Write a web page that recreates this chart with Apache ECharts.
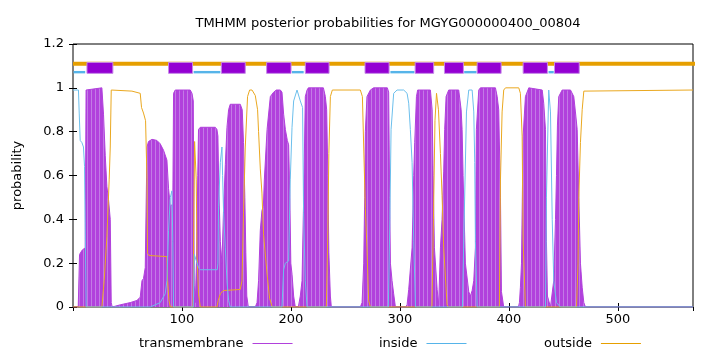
<!DOCTYPE html>
<html>
<head>
<meta charset="utf-8">
<script src="https://cdn.jsdelivr.net/npm/echarts@6/dist/echarts.min.js"></script>
<style>
    html, body { margin: 0; padding: 0; background: #fff; }
    #chart { width: 720px; height: 352px; }
</style>
</head>
<body>
<div id="chart"></div>
<script>
// residue range of the protein
const seqLength = 569;
const yTicks = [0, 0.2, 0.4, 0.6, 0.8, 1, 1.2];

// posterior probability profiles, [residue, probability]
const tmProfile = [
    [0, 0], [4.8, 0], [6.0, 0.24], [8.5, 0.26], [11.2, 0.27], [12.0, 0.99], [26.5, 1.0], [28.0, 0.88],
    [29.6, 0.69], [31.1, 0.55], [32.6, 0.49], [34.2, 0.40], [35.1, 0.02], [36, 0], [43.4, 0.01], [52.5, 0.02],
    [58.7, 0.03], [61.7, 0.045], [63.3, 0.12], [64.7, 0.13], [66.3, 0.18], [67.9, 0.73], [69.3, 0.755],
    [72.5, 0.765], [77.0, 0.76], [80.0, 0.745], [83.1, 0.715], [86.2, 0.67], [87.7, 0.54], [89.3, 0.46],
    [91.6, 0.47], [92.3, 0.975], [93.8, 0.99], [107.6, 0.99], [109.2, 0.975], [110.4, 0.94], [111.3, 0.1],
    [112.2, 0.02], [113.3, 0.2], [114.5, 0.6], [115.2, 0.81], [116.8, 0.82], [130.6, 0.82], [132.1, 0.81],
    [133.0, 0.78], [133.8, 0.55], [135.2, 0.3], [136.7, 0.2], [138.2, 0.45], [139.8, 0.65], [141.3, 0.82],
    [142.8, 0.9], [144.3, 0.925], [153.5, 0.925], [155.3, 0.9], [156.5, 0.75], [157.7, 0.5], [158.6, 0.25],
    [159.5, 0.05], [160.9, 0], [167.3, 0], [168.9, 0.02], [170.3, 0.12], [171.9, 0.35], [173.4, 0.44],
    [174.7, 0.46], [175.6, 0.58], [178.1, 0.81], [181.1, 0.96], [184.1, 0.98], [186.6, 0.99], [190.3, 0.99],
    [191.8, 0.98], [193.3, 0.88], [194.9, 0.81], [196.7, 0.76], [197.9, 0.74], [199.0, 0.5], [199.9, 0.2],
    [201.0, 0.15], [202.5, 0.05], [204.0, 0], [206.8, 0], [208.6, 0.05], [210.2, 0.12], [211.7, 0.5],
    [213.2, 0.96], [214.8, 0.99], [216.0, 1.0], [229.8, 1.0], [231.6, 0.96], [232.8, 0.9], [233.9, 0.6],
    [234.8, 0.25], [236.2, 0.05], [237.1, 0], [263.7, 0], [265.3, 0.02], [266.8, 0.2], [267.7, 0.5],
    [268.3, 0.8], [269.8, 0.96], [272.9, 0.99], [275.9, 1.0], [288.5, 1.0], [289.7, 0.98], [290.6, 0.5],
    [291.3, 0.2], [292.8, 0.12], [294.3, 0.06], [295.9, 0], [305.1, 0], [306.6, 0.01], [308.1, 0.08],
    [311.2, 0.27], [312.7, 0.6], [313.6, 0.75], [315.2, 0.96], [316.3, 0.99], [328.0, 0.99], [329.6, 0.9],
    [330.5, 0.6], [331.7, 0.27], [334.2, 0.08], [335.6, 0.01], [337.2, 0.27], [338.7, 0.4], [340.2, 0.62],
    [341.1, 0.81], [342.4, 0.96], [344.8, 0.99], [354.0, 0.99], [356.2, 0.9], [357.1, 0.81], [358.0, 0.6],
    [360.1, 0.2], [363.2, 0.07], [364.7, 0.05], [366.3, 0.075], [367.8, 0.12], [369.3, 0.27], [370.2, 0.81],
    [372.4, 0.99], [373.9, 1.0], [387.7, 1.0], [389.3, 0.96], [390.7, 0.9], [392.3, 0.5], [393.2, 0.07],
    [395.3, 0], [408.8, 0], [409.7, 0.02], [410.6, 0.09], [411.6, 0.2], [413.1, 0.78], [415.2, 0.96],
    [418.3, 1.0], [430.6, 0.99], [432.0, 0.93], [433.6, 0.81], [434.5, 0.3], [435.4, 0.05], [438.2, 0],
    [439.8, 0], [441.2, 0.12], [442.8, 0.4], [443.7, 0.6], [444.6, 0.83], [445.8, 0.96], [448.9, 0.99],
    [456.6, 0.99], [459.6, 0.96], [461.1, 0.89], [462.7, 0.81], [464.2, 0.5], [465.7, 0.2], [467.3, 0.09],
    [468.8, 0.02], [470.3, 0], [569, 0]
];

const insideProfile = [
    [0, 0.99], [5.0, 0.99], [5.7, 0.885], [6.6, 0.76], [8.2, 0.75], [9.6, 0.73], [10.6, 0.64], [11.2, 0.36],
    [12.1, 0], [70.9, 0], [80.0, 0.02], [84.6, 0.06], [86.2, 0.12], [87.7, 0.35], [89.3, 0.5], [90.8, 0.53],
    [91.6, 0.3], [92.3, 0], [110.4, 0], [111.3, 0.24], [112.2, 0.24], [115.2, 0.18], [116.8, 0.17],
    [132.4, 0.17], [133.0, 0.2], [133.6, 0.46], [135.2, 0.66], [136.7, 0.73], [137.3, 0.6], [138.2, 0.43],
    [139.8, 0.27], [141.3, 0.12], [142.8, 0.03], [144.3, 0], [191.8, 0], [193.3, 0.17], [194.9, 0.2],
    [197.9, 0.21], [199.4, 0.58], [201.0, 0.82], [202.5, 0.94], [205.6, 0.99], [208.6, 0.94], [210.7, 0.91],
    [211.6, 0.43], [213.2, 0.12], [214.8, 0], [289.4, 0], [290.8, 0.4], [291.9, 0.81], [294.3, 0.975],
    [297.4, 0.99], [303.5, 0.99], [306.6, 0.975], [308.1, 0.93], [309.6, 0.81], [311.2, 0.66], [312.7, 0.3],
    [314.3, 0], [357.4, 0], [358.6, 0.3], [361.1, 0.89], [363.2, 0.99], [366.3, 0.99], [367.8, 0.89],
    [368.7, 0.66], [369.3, 0.3], [370.9, 0], [433.6, 0], [434.5, 0.5], [436.6, 0.99], [438.2, 0.89],
    [439.8, 0.4], [441.2, 0.12], [443.7, 0.02], [447.4, 0], [569, 0]
];

const outsideProfile = [
    [0, 0], [26.5, 0], [28.6, 0.12], [31.1, 0.32], [33.2, 0.58], [34.2, 0.73], [35.1, 0.99], [54.1, 0.985],
    [61.7, 0.975], [62.9, 0.91], [64.7, 0.885], [66.6, 0.85], [67.9, 0.58], [68.4, 0.245], [69.7, 0.235],
    [86.2, 0.23], [86.8, 0.12], [88.1, 0.03], [89.3, 0], [110.1, 0], [111.6, 0.755], [113.1, 0.58],
    [113.8, 0.24], [115.2, 0.06], [116.8, 0], [132.1, 0], [133.3, 0.03], [135.2, 0.06], [137.9, 0.075],
    [153.5, 0.08], [155.1, 0.12], [156.5, 0.43], [158.1, 0.73], [160.2, 0.96], [162.1, 0.99], [164.3, 0.99],
    [167.3, 0.965], [169.4, 0.9], [170.3, 0.8], [171.9, 0.63], [173.4, 0.52], [174.9, 0.33], [178.1, 0.15],
    [180.4, 0.04], [182.9, 0], [232.5, 0], [233.9, 0.35], [234.8, 0.7], [236.2, 0.96], [238.0, 0.99],
    [263.7, 0.99], [265.6, 0.96], [266.8, 0.73], [268.3, 0.45], [269.8, 0.27], [271.3, 0.03], [272.9, 0],
    [329.4, 0], [330.8, 0.4], [332.2, 0.85], [333.6, 0.975], [335.4, 0.9], [337.2, 0.7], [338.7, 0.51],
    [340.2, 0.27], [343.3, 0.01], [344.5, 0], [391.3, 0], [392.3, 0.58], [393.8, 0.89], [395.3, 0.99],
    [396.9, 1.0], [409.1, 1.0], [410.6, 0.975], [412.2, 0.78], [413.1, 0.3], [415.2, 0], [462.1, 0],
    [463.5, 0.2], [464.2, 0.5], [465.7, 0.75], [467.3, 0.9], [468.8, 0.985], [569, 0.99]
];

// predicted topology (Viterbi path), [start, end]
const helices = [
    [12.8, 36.6], [87.7, 109.7], [136.1, 158.1], [177.7, 200.1], [213.2, 235.0], [268.0, 290.1],
    [314.0, 331.0], [340.9, 358.3], [370.9, 392.9], [413.1, 435.4], [441.9, 464.6]
];
const insideSegments = [
    [0.5, 11.2], [110.7, 135.2], [201.0, 211.7], [291.3, 313.3], [359.0, 370.3], [436.4, 441.2]
];
const outsideSpan = [0, 600];

const chart = echarts.init(document.getElementById('chart'));

// striped fill, like gnuplot impulses
const stripe = document.createElement('canvas');
stripe.width = 4;
stripe.height = 4;
const sctx = stripe.getContext('2d');
sctx.fillStyle = '#b141dc';
sctx.fillRect(0, 0, 4, 4);
sctx.fillStyle = '#c37ae6';
sctx.fillRect(3, 0, 1, 4);

function rectItem(fill, stroke) {
    return function (params, api) {
        const p0 = api.coord([api.value(0), api.value(2)]);
        const p1 = api.coord([api.value(1), api.value(3)]);
        return {
            type: 'rect',
            shape: { x: p0[0], y: p1[1], width: p1[0] - p0[0], height: p0[1] - p1[1] },
            style: { fill: fill, stroke: stroke, lineWidth: stroke ? 1 : 0 }
        };
    };
}

const legendBase = {
    orient: 'horizontal',
    top: 332,
    align: 'right',
    icon: 'rect',
    itemWidth: 40,
    itemHeight: 1,
    selectedMode: false,
    textStyle: { fontSize: 13, color: '#000', padding: [0, 4, 0, 0] }
};

chart.setOption({
    animation: false,
    textStyle: { fontFamily: 'DejaVu Sans' },
    title: {
        text: 'TMHMM posterior probabilities for MGYG000000400_00804',
        left: 383,
        textAlign: 'center',
        top: 12,
        textStyle: { fontSize: 13, fontWeight: 'normal', color: '#000' }
    },
    legend: [
        Object.assign({}, legendBase, { left: 134, data: ['transmembrane'] }),
        Object.assign({}, legendBase, { left: 374, data: ['inside'] }),
        Object.assign({}, legendBase, { left: 539, data: ['outside'] })
    ],
    grid: {
        left: 73,
        right: 27,
        top: 44,
        bottom: 45,
        show: true,
        borderColor: '#000',
        borderWidth: 1,
        containLabel: false
    },
    xAxis: [{
        type: 'value',
        min: 0,
        max: seqLength,
        interval: 100,
        axisLine: { show: false },
        axisTick: { inside: true, length: 4, lineStyle: { color: '#000' } },
        axisLabel: { showMinLabel: false, showMaxLabel: false, color: '#000', fontSize: 13, margin: 6 },
        splitLine: { show: false }
    }, {
        type: 'value',
        position: 'top',
        min: 0,
        max: seqLength,
        interval: 100,
        axisLine: { show: false },
        axisTick: { inside: true, length: 4, lineStyle: { color: '#000' } },
        axisLabel: { show: false },
        splitLine: { show: false }
    }],
    yAxis: [{
        type: 'value',
        min: yTicks[0],
        max: yTicks[yTicks.length - 1],
        interval: 0.2,
        name: 'probability',
        nameLocation: 'middle',
        nameGap: 49,
        nameTextStyle: { fontSize: 13, color: '#000' },
        axisLine: { show: false },
        axisTick: { inside: true, length: 4, lineStyle: { color: '#000' } },
        axisLabel: { color: '#000', fontSize: 13, margin: 9 },
        splitLine: { show: false }
    }, {
        type: 'value',
        position: 'right',
        min: yTicks[0],
        max: yTicks[yTicks.length - 1],
        interval: 0.2,
        axisLine: { show: false },
        axisTick: { inside: true, length: 4, lineStyle: { color: '#000' } },
        axisLabel: { show: false },
        splitLine: { show: false }
    }],
    series: [
        {
            name: 'transmembrane',
            type: 'line',
            data: tmProfile,
            showSymbol: false,
            color: '#b141dc',
            lineStyle: { width: 1, color: '#b141dc' },
            areaStyle: { color: { image: stripe, repeat: 'repeat' }, opacity: 1 },
            z: 2
        },
        {
            name: 'outside',
            type: 'line',
            data: outsideProfile,
            showSymbol: false,
            color: '#e69f00',
            lineStyle: { width: 1, color: '#eaa820' },
            z: 3
        },
        {
            name: 'inside',
            type: 'line',
            data: insideProfile,
            showSymbol: false,
            color: '#56b4e9',
            lineStyle: { width: 1, color: '#6cbfec' },
            z: 3
        },
        {
            name: 'outsideBand',
            type: 'line',
            data: [[outsideSpan[0], 1.11], [outsideSpan[1], 1.11]],
            showSymbol: false,
            clip: false,
            lineStyle: { width: 4, color: '#e69f00', cap: 'butt' },
            z: 4
        },
        {
            name: 'insideBand',
            type: 'custom',
            renderItem: rectItem('#56b4e9', null),
            data: insideSegments.map(s => [s[0], s[1], 1.066, 1.077]),
            encode: { x: [0, 1], y: [2, 3] },
            z: 5
        },
        {
            name: 'helixBoxes',
            type: 'custom',
            renderItem: rectItem('#9400d3', '#c78be8'),
            data: helices.map(h => [h[0], h[1], 1.066, 1.116]),
            encode: { x: [0, 1], y: [2, 3] },
            z: 6
        }
    ]
});
</script>
</body>
</html>
